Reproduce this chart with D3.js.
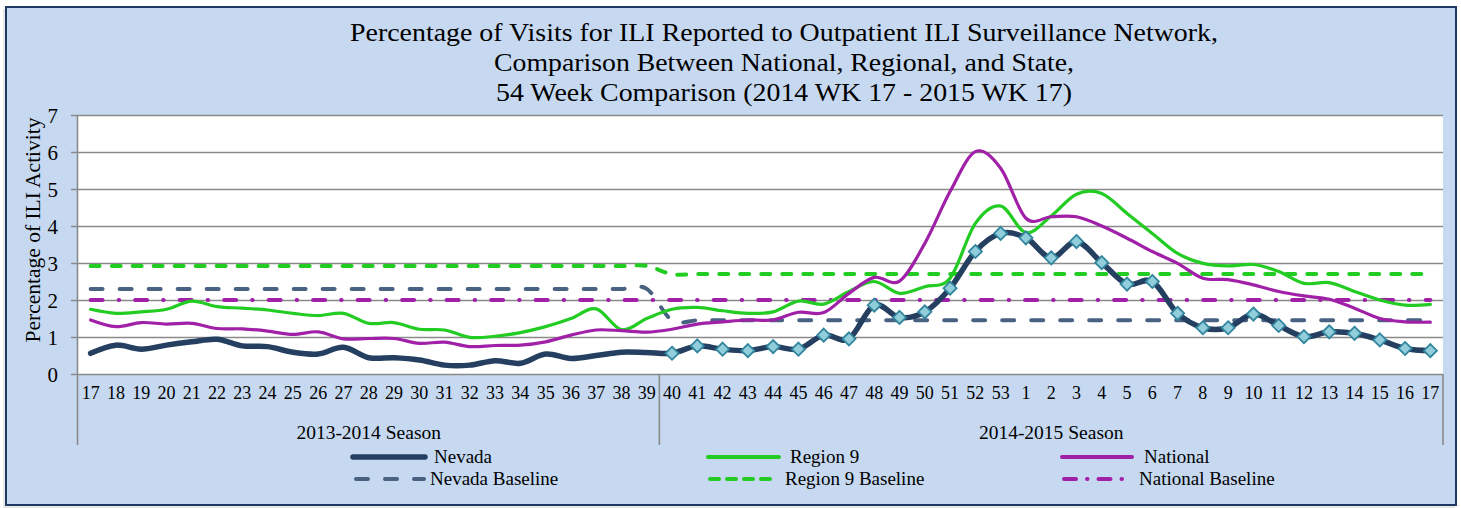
<!DOCTYPE html>
<html>
<head>
<meta charset="utf-8">
<script src="https://cdn.jsdelivr.net/npm/d3@7"></script>
<style>
  html, body { margin: 0; padding: 0; background: #ffffff; }
  svg { display: block; }
  text { font-family: "Liberation Serif", "Times New Roman", serif; fill: #000; }
</style>
</head>
<body>
<svg id="chart" width="1461" height="508"></svg>
<script>
// ---------------- DATA ----------------
const titleLines = [
  "Percentage of Visits for ILI Reported to Outpatient ILI Surveillance Network,",
  "Comparison Between National, Regional, and State,",
  "54 Week Comparison (2014 WK 17 - 2015 WK 17)"
];
const yAxisTitle = "Percentage of ILI Activity";
const weekLabels = ["17","18","19","20","21","22","23","24","25","26","27","28","29","30","31","32","33","34","35","36","37","38","39",
  "40","41","42","43","44","45","46","47","48","49","50","51","52","53","1","2","3","4","5","6","7","8","9","10","11","12","13","14","15","16","17"];
const seasons = ["2013-2014 Season", "2014-2015 Season"];
const seasonSizes = [23, 31];
const yTicks = [0, 1, 2, 3, 4, 5, 6, 7];

const nevada = [0.56,0.78,0.67,0.78,0.87,0.94,0.76,0.74,0.59,0.54,0.72,0.44,0.44,0.38,0.24,0.24,0.36,0.29,0.54,0.42,0.50,0.59,0.58,
  0.56,0.76,0.67,0.63,0.74,0.67,1.05,0.95,1.86,1.53,1.68,2.32,3.31,3.80,3.68,3.14,3.58,3.01,2.43,2.50,1.64,1.25,1.25,1.62,1.31,1.01,1.14,1.10,0.92,0.69,0.63];
const region9 = [1.75,1.64,1.68,1.75,1.97,1.82,1.78,1.73,1.64,1.58,1.64,1.37,1.39,1.21,1.19,0.99,1.02,1.12,1.28,1.50,1.76,1.20,1.50,
  1.75,1.80,1.71,1.64,1.68,1.97,1.89,2.23,2.50,2.18,2.36,2.59,4.07,4.54,3.82,4.27,4.86,4.88,4.34,3.80,3.26,2.99,2.92,2.96,2.77,2.45,2.47,2.23,2.00,1.86,1.88];
const national = [1.46,1.28,1.39,1.35,1.37,1.23,1.22,1.16,1.07,1.14,0.95,0.96,0.96,0.83,0.86,0.74,0.77,0.78,0.87,1.05,1.19,1.17,1.13,
  1.21,1.35,1.41,1.46,1.46,1.67,1.66,2.18,2.61,2.51,3.53,4.93,6.01,5.56,4.21,4.25,4.25,4.00,3.67,3.31,2.99,2.59,2.55,2.41,2.23,2.11,2.02,1.78,1.50,1.41,1.40];
const nevadaBaseline = [2.3,2.3,2.3,2.3,2.3,2.3,2.3,2.3,2.3,2.3,2.3,2.3,2.3,2.3,2.3,2.3,2.3,2.3,2.3,2.3,2.3,2.3,2.3,
  1.45,1.45,1.45,1.45,1.45,1.45,1.45,1.45,1.45,1.45,1.45,1.45,1.45,1.45,1.45,1.45,1.45,1.45,1.45,1.45,1.45,1.45,1.45,1.45,1.45,1.45,1.45,1.45,1.45,1.45,1.45];
const region9Baseline = [2.92,2.92,2.92,2.92,2.92,2.92,2.92,2.92,2.92,2.92,2.92,2.92,2.92,2.92,2.92,2.92,2.92,2.92,2.92,2.92,2.92,2.92,2.92,
  2.7,2.7,2.7,2.7,2.7,2.7,2.7,2.7,2.7,2.7,2.7,2.7,2.7,2.7,2.7,2.7,2.7,2.7,2.7,2.7,2.7,2.7,2.7,2.7,2.7,2.7,2.7,2.7,2.7,2.7,2.7];
const nationalBaseline = [2,2,2,2,2,2,2,2,2,2,2,2,2,2,2,2,2,2,2,2,2,2,2,
  2,2,2,2,2,2,2,2,2,2,2,2,2,2,2,2,2,2,2,2,2,2,2,2,2,2,2,2,2,2,2];
const markerStart = 23; // Nevada markers shown for 2014-2015 season

// ---------------- LAYOUT ----------------
const svg = d3.select("#chart");
const plot = { left: 78, right: 1443, top: 115, bottom: 374 };

const x = d3.scaleBand().domain(d3.range(weekLabels.length)).range([plot.left, plot.right]).padding(0);
const xc = i => x(i) + x.bandwidth() / 2;
const y = d3.scaleLinear().domain([0, 7]).range([plot.bottom, plot.top]);

// background frame
svg.append("rect").attr("x", 3).attr("y", 9).attr("width", 1452).attr("height", 499).attr("fill", "#d9d9d9").attr("opacity", 0.6);
svg.append("rect").attr("x", 6).attr("y", 7).attr("width", 1450).attr("height", 498)
  .attr("fill", "#c6d9f1").attr("stroke", "#1f3a5f").attr("stroke-width", 2);

// plot area
svg.append("rect").attr("x", plot.left).attr("y", plot.top)
  .attr("width", plot.right - plot.left).attr("height", plot.bottom - plot.top).attr("fill", "#ffffff");

// title
const title = svg.append("g");
const titleWidths = [868, 580, 576];
const titleBase = [41, 71, 101];
titleLines.forEach((t, i) => {
  title.append("text").attr("x", 784).attr("y", titleBase[i]).attr("text-anchor", "middle")
    .attr("font-size", 25).attr("textLength", titleWidths[i]).attr("lengthAdjust", "spacingAndGlyphs").text(t);
});

// y grid + axis
const yAxis = d3.axisLeft(y).tickValues(yTicks).tickSize(plot.right - plot.left + 7).tickFormat(d3.format("d")).tickPadding(13);
const gy = svg.append("g").attr("transform", `translate(${plot.right},0)`).call(yAxis);
gy.select(".domain").remove();
gy.selectAll(".tick line").attr("stroke", "#8a8a8a").attr("stroke-width", 1.6);
gy.selectAll(".tick text").attr("font-size", 21).attr("font-family", "Liberation Serif").attr("fill", "#000")
  .attr("dy", "0.35em");

// left axis line
svg.append("line").attr("x1", plot.left - 0.5).attr("x2", plot.left - 0.5).attr("y1", plot.top).attr("y2", 445)
  .attr("stroke", "#8a8a8a").attr("stroke-width", 1.6);

// x axis labels
const xAxis = d3.axisBottom(x).tickSize(0).tickPadding(12).tickFormat(i => weekLabels[i]);
const gx = svg.append("g").attr("transform", `translate(0,${plot.bottom})`).call(xAxis);
gx.select(".domain").remove();
gx.selectAll(".tick text").attr("font-size", 18).attr("font-family", "Liberation Serif").attr("fill", "#000");

// season separators and labels
let start = 0;
seasons.forEach((s, k) => {
  const end = start + seasonSizes[k];
  const x0 = x(start), x1 = x(end - 1) + x.bandwidth();
  svg.append("line").attr("x1", x1).attr("x2", x1).attr("y1", plot.bottom).attr("y2", 445)
    .attr("stroke", "#8a8a8a").attr("stroke-width", 1.6);
  svg.append("text").attr("x", (x0 + x1) / 2).attr("y", 439).attr("text-anchor", "middle")
    .attr("font-size", 19.5).text(s);
  start = end;
});

// y axis title
svg.append("text").attr("transform", "translate(40,230) rotate(-90)").attr("text-anchor", "middle")
  .attr("font-size", 21.5).text(yAxisTitle);

// ---------------- SERIES ----------------
const curve = d3.curveCardinal.tension(0);
const line = d3.line().x((d, i) => xc(i)).y(d => y(d)).curve(curve);

const series = [
  { name: "Nevada Baseline", data: nevadaBaseline, color: "#4a6282", width: 4, dash: "12,17", cap: "round" },
  { name: "Region 9 Baseline", data: region9Baseline, color: "#22cc22", width: 4, dash: "9,12", cap: "round" },
  { name: "National Baseline", data: nationalBaseline, color: "#a020a8", width: 4, dash: "12,16,0.5,16", cap: "round" },
  { name: "Region 9", data: region9, color: "#22cc22", width: 3.2, dash: null, cap: "round" },
  { name: "National", data: national, color: "#a020a8", width: 3.2, dash: null, cap: "round" },
  { name: "Nevada", data: nevada, color: "#243f60", width: 5.5, dash: null, cap: "round" }
];

series.forEach(s => {
  svg.append("path").datum(s.data).attr("d", line)
    .attr("fill", "none").attr("stroke", s.color).attr("stroke-width", s.width)
    .attr("stroke-linecap", s.cap).attr("stroke-linejoin", "round")
    .attr("stroke-dasharray", s.dash);
});

// Nevada markers
const diamond = d3.symbol().type(d3.symbolDiamond2).size(110);
svg.append("g").selectAll("path").data(nevada.map((v, i) => ({ v, i })).filter(d => d.i >= markerStart))
  .join("path")
  .attr("d", diamond)
  .attr("transform", d => `translate(${xc(d.i)},${y(d.v)})`)
  .attr("fill", "#92cddc").attr("stroke", "#31859c").attr("stroke-width", 1.8);

// ---------------- LEGEND ----------------
const legendItems = [
  { name: "Nevada", color: "#243f60", width: 5.5, dash: null, x1: 353, x2: 425, y: 457, tx: 434 },
  { name: "Region 9", color: "#22cc22", width: 4, dash: null, x1: 708, x2: 779, y: 457, tx: 790 },
  { name: "National", color: "#a020a8", width: 4, dash: null, x1: 1062, x2: 1132, y: 457, tx: 1144 },
  { name: "Nevada Baseline", color: "#4a6282", width: 4, dash: "12,17", x1: 356, x2: 424, y: 479, tx: 430 },
  { name: "Region 9 Baseline", color: "#22cc22", width: 4, dash: "9,8", x1: 710, x2: 777, y: 479, tx: 785 },
  { name: "National Baseline", color: "#a020a8", width: 4, dash: "12,11,0.5,11", x1: 1064, x2: 1125, y: 479, tx: 1139 }
];
const lg = svg.append("g");
legendItems.forEach(l => {
  lg.append("line").attr("x1", l.x1).attr("x2", l.x2).attr("y1", l.y).attr("y2", l.y)
    .attr("stroke", l.color).attr("stroke-width", l.width).attr("stroke-linecap", "round")
    .attr("stroke-dasharray", l.dash);
  lg.append("text").attr("x", l.tx).attr("y", l.y + 6).attr("font-size", 19).text(l.name);
});
</script>
</body>
</html>
